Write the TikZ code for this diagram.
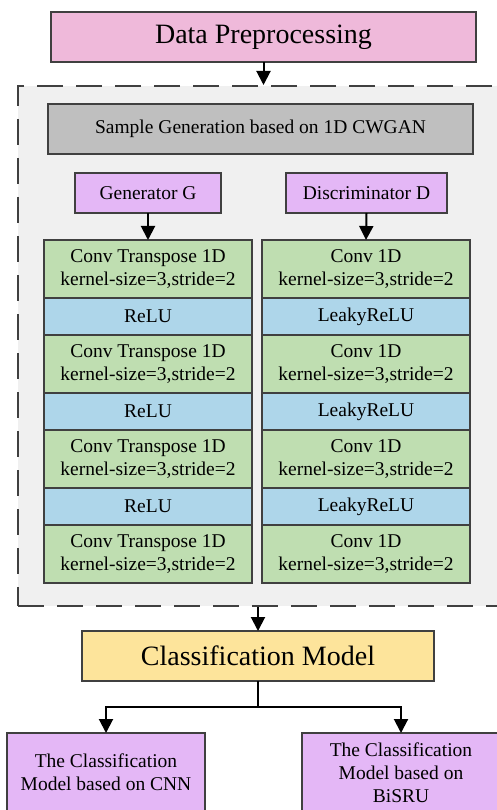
\documentclass[tikz,border=0pt]{standalone}
\usepackage{fontspec}
\setmainfont{Liberation Serif}
\usetikzlibrary{arrows.meta, positioning}
\definecolor{prebg}{HTML}{EFB9DA}
\definecolor{samplebg}{HTML}{BFBFBF}
\definecolor{netbg}{HTML}{E4B7F6}
\definecolor{convbg}{HTML}{BFDEB1}
\definecolor{actbg}{HTML}{AED6EA}
\definecolor{clsbg}{HTML}{FDE49B}
\definecolor{groupbg}{HTML}{F0F0F0}
\definecolor{edge}{HTML}{404040}
\tikzset{
    block/.style={
        rectangle, draw=edge, line width=1.2pt, align=center, inner sep=0pt,
        outer sep=0pt, font=\fontsize{19.5}{23}\selectfont
    },
    title/.style={
        block, minimum width=425pt, minimum height=50pt,
        font=\fontsize{28}{32}\selectfont
    },
    netbox/.style={
        block, fill=netbg, minimum height=40pt
    },
    convlayer/.style={
        block, fill=convbg, minimum width=208pt, minimum height=58pt
    },
    actlayer/.style={
        block, fill=actbg, minimum width=208pt, minimum height=37pt
    },
    modelbox/.style={
        block, fill=netbg, minimum width=198pt, minimum height=79pt
    },
    arrow/.style={
        -{Triangle[width=14pt,length=14pt]}, line width=2pt, draw=black
    },
    groupbox/.style={
        rectangle, draw=edge, line width=2pt, dash pattern=on 26pt off 13pt,
        fill=groupbg, minimum width=484pt, minimum height=520pt
    }
}

\begin{document}
\begin{tikzpicture}[x=1pt, y=-1pt]
    \useasboundingbox (0,0) rectangle (497,810);

    \node[title, fill=prebg] (pre) at (263.5,37) {Data Preprocessing};

    \node[groupbox] (cwgan) at (260,346) {};
    \node[block, fill=samplebg, minimum width=425pt, minimum height=50pt] (sample) at (260.5,129)
        {Sample Generation based on 1D CWGAN};

    \node[netbox, minimum width=146pt] (gen)  at (148,193)   {Generator G};
    \node[netbox, minimum width=161pt] (disc) at (366.5,193) {Discriminator D};

    % generator layers
    \node[convlayer] (g1) at (148,269) {Conv Transpose 1D\\kernel-size=3,stride=2};
    \node[actlayer, below=0pt of g1]  (g2) {ReLU};
    \node[convlayer, below=0pt of g2] (g3) {Conv Transpose 1D\\kernel-size=3,stride=2};
    \node[actlayer, below=0pt of g3]  (g4) {ReLU};
    \node[convlayer, below=0pt of g4] (g5) {Conv Transpose 1D\\kernel-size=3,stride=2};
    \node[actlayer, below=0pt of g5]  (g6) {ReLU};
    \node[convlayer, below=0pt of g6] (g7) {Conv Transpose 1D\\kernel-size=3,stride=2};

    % discriminator layers
    \node[convlayer] (d1) at (366,269) {Conv 1D\\kernel-size=3,stride=2};
    \node[actlayer, below=0pt of d1]  (d2) {LeakyReLU};
    \node[convlayer, below=0pt of d2] (d3) {Conv 1D\\kernel-size=3,stride=2};
    \node[actlayer, below=0pt of d3]  (d4) {LeakyReLU};
    \node[convlayer, below=0pt of d4] (d5) {Conv 1D\\kernel-size=3,stride=2};
    \node[actlayer, below=0pt of d5]  (d6) {LeakyReLU};
    \node[convlayer, below=0pt of d6] (d7) {Conv 1D\\kernel-size=3,stride=2};

    \node[title, fill=clsbg, minimum width=352pt] (cls) at (258,656) {Classification Model};

    \node[modelbox] (cnn)   at (106,772.5) {The Classification\\Model based on CNN};
    \node[modelbox] (bisru) at (401,772.5) {The Classification\\Model based on\\BiSRU};

    \draw[arrow] (pre.south)  -- (pre.south |- cwgan.north);
    \draw[arrow] (gen.south)  -- (g1.north);
    \draw[arrow] (disc.south) -- (d1.north);
    \draw[arrow] (cls.north |- cwgan.south) -- (cls.north);
    \draw[arrow] (cls.south) -- ++(0,26) -| (cnn.north);
    \draw[arrow] (cls.south) -- ++(0,26) -| (bisru.north);

\end{tikzpicture}
\end{document}
